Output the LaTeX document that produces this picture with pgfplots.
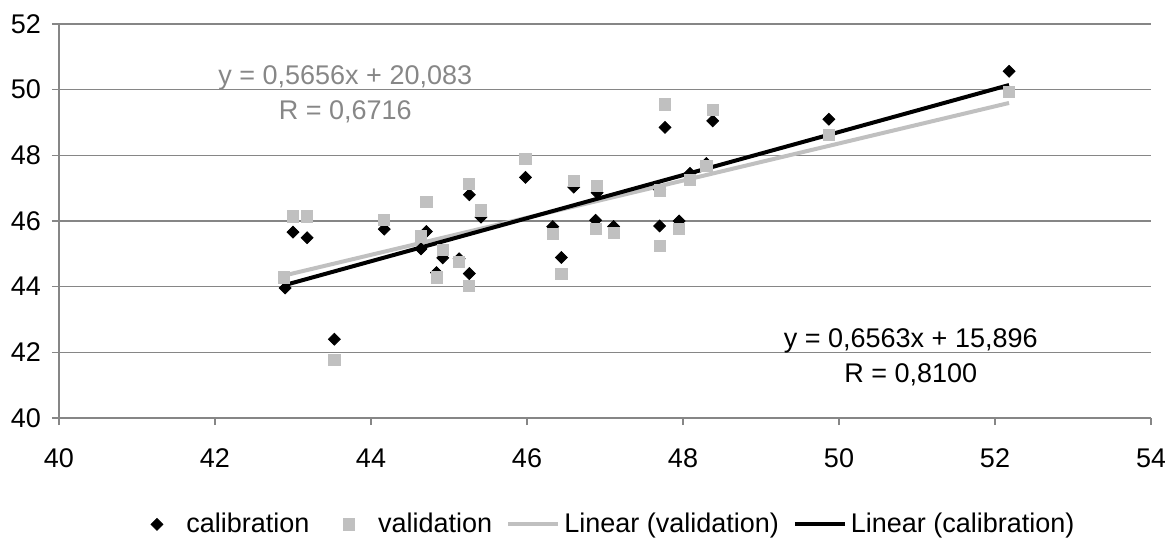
\documentclass[border=0pt]{standalone}
\usepackage{fontspec}
\setmainfont{Liberation Sans}
\usepackage{pgfplots}
\pgfplotsset{compat=1.18}
\definecolor{valgray}{HTML}{C0C0C0}
\definecolor{gridgray}{HTML}{868686}
\definecolor{txtgray}{HTML}{878787}
\pgfplotsset{mark legend/.style={legend image code/.code={%
  \path (0pt,0pt) (25pt,0pt);
  \draw[##1] plot coordinates {(12.5pt,0pt)};}}}

\begin{document}
\begin{tikzpicture}
% page size: 1165x540 px at 0.5pt per px
\path[use as bounding box] (-29.5pt,-61pt) rectangle (553pt,209pt);
\begin{axis}[
  scale only axis, width=546pt, height=197pt,
  xmin=40, xmax=54, ymin=40, ymax=52,
  xtick distance=2, ytick distance=2,
  axis x line=bottom, axis y line=left,
  axis line style={-, draw=gridgray, line width=0.6pt},
  ymajorgrids, grid style={draw=gridgray, line width=0.6pt},
  tick style={draw=gridgray, line width=0.6pt},
  tick align=outside, major tick length=3.5pt,
  ticklabel style={font=\fontsize{13.5}{15}\selectfont},
  /pgf/number format/assume math mode=true,
  xticklabel style={yshift=-8.5pt},
  yticklabel style={xshift=-2pt},
  legend columns=-1,
  legend style={at={(0.5,-0.27)}, anchor=center, draw=none, fill=none,
    font=\fontsize{13.5}{15}\selectfont,
    /tikz/every even column/.append style={column sep=5pt}},
  legend image code/.code={\draw[mark repeat=2,mark phase=2,#1]
    plot coordinates {(0pt,0pt) (12.5pt,0pt) (25pt,0pt)};},
  clip=false,
]
\addplot[only marks, mark=square*, mark size=2.1pt,
  mark options={rotate=45, draw=black, fill=black}, mark legend] coordinates {
  (42.90,43.96) (43.00,45.66) (43.18,45.49) (43.53,42.40) (44.17,45.75)
  (44.64,45.15) (44.71,45.68) (44.84,44.43) (44.92,44.88) (45.13,44.85)
  (45.26,44.40) (45.26,46.80) (45.41,46.12) (45.98,47.33) (46.33,45.83)
  (46.44,44.89) (46.60,47.03) (46.88,46.02) (46.90,46.86) (47.11,45.83)
  (47.70,45.85) (47.70,46.95) (47.77,48.85) (47.95,46.00) (48.09,47.45)
  (48.30,47.75) (48.38,49.05) (49.87,49.10) (52.18,50.56)
};
\addlegendentry{calibration}
\addplot[only marks, mark=square*, mark size=2.8pt,
  mark options={draw=valgray, fill=valgray}, mark legend] coordinates {
  (42.88,44.28) (43.00,46.14) (43.18,46.14) (43.53,41.77) (44.17,46.03)
  (44.64,45.53) (44.71,46.58) (44.84,44.28) (44.92,45.12) (45.13,44.75)
  (45.26,44.02) (45.26,47.13) (45.41,46.32) (45.98,47.90) (46.33,45.60)
  (46.44,44.40) (46.60,47.23) (46.88,45.76) (46.90,47.06) (47.11,45.63)
  (47.70,45.24) (47.70,46.93) (47.77,49.55) (47.95,45.76) (48.09,47.25)
  (48.30,47.68) (48.38,49.38) (49.87,48.62) (52.18,49.92)
};
\addlegendentry{validation}
\addplot[valgray, line width=2pt, no marks] coordinates {
  (42.88,44.336) (52.18,49.595)
};
\addlegendentry{Linear (validation)}
\addplot[black, line width=2pt, no marks] coordinates {
  (42.90,44.052) (52.18,50.141)
};
\addlegendentry{Linear (calibration)}
\node[text=txtgray, align=center, font=\fontsize{13.5}{17.5}\selectfont]
  at (axis cs:43.67,49.86) {y = 0,5656x + 20,083\\R = 0,6716};
\node[text=black, align=center, font=\fontsize{13.5}{17.5}\selectfont]
  at (axis cs:50.92,41.86) {y = 0,6563x + 15,896\\R = 0,8100};
\end{axis}
\end{tikzpicture}
\end{document}
